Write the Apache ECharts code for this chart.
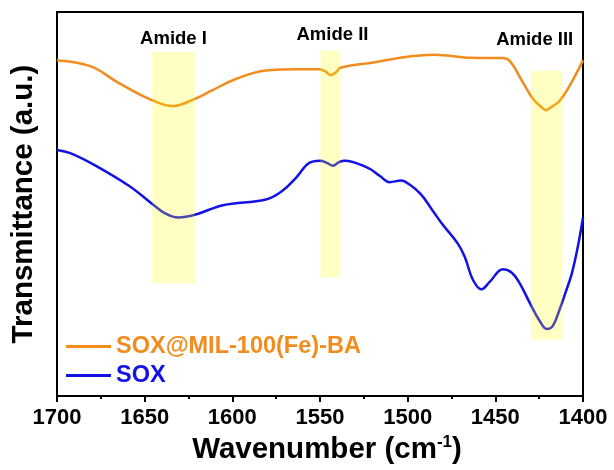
<!DOCTYPE html>
<html><head><meta charset="utf-8">
<script src="https://cdn.jsdelivr.net/npm/echarts@6/dist/echarts.min.js"></script>
<style>html,body{margin:0;padding:0;background:#fff}#c{width:614px;height:470px}</style>
</head><body><div id="c"></div><script>
// Wavenumber (cm^-1) and transmittance (a.u.)
const milWave = [1700,1681,1665.4,1647.5,1634.1,1621.4,1611.9,1598.4,1580.8,1562.8,1550.6,1547.2,1543.8,1540.9,1538.3,1520.4,1498.2,1484.7,1464.5,1445.7,1441.7,1434.3,1428.6,1424.1,1420.9,1419.5,1417.8,1413.3,1407.6,1400];
const milT    = [87.4,85.9,81.7,77.4,75.5,77.4,79.5,82.5,84.8,85.1,85.1,84.6,83.6,84.3,85.5,86.8,88.5,88.9,88.1,88.0,87.2,81.7,77.4,75.4,74.4,74.8,75.3,76.9,80.8,87.4];
const soxWave = [1700,1692.1,1678.8,1658.8,1645.3,1638.3,1630.9,1621.4,1605.3,1580.8,1571.6,1563.7,1556.3,1550,1546.1,1542.6,1539.2,1536.0,1522.7,1515.8,1510.3,1503.8,1498.7,1492.4,1486.2,1480.3,1471.4,1467.4,1462.8,1457.9,1453.1,1445.7,1440.6,1436.0,1430.3,1424.6,1420.6,1417.2,1413.3,1409.8,1406.4,1403.0,1400];
const soxT    = [64.1,63.2,60.2,54.7,49.9,47.6,46.5,47.2,49.7,51.2,53.4,56.8,60.7,61.3,60.7,60.0,60.9,61.3,59.4,57.3,55.7,56.1,55.0,52.5,48.6,44.8,39.7,36.2,30.3,27.8,29.8,33.0,32.1,29.3,24.2,19.5,17.5,18.3,22.6,27.2,31.9,38.8,46.5];
const seriesNames = ['SOX@MIL-100(Fe)-BA', 'SOX'];
const bandNames = ['Amide I', 'Amide II', 'Amide III'];
const bandFrom  = [1645.7, 1549.8, 1429.7];
const bandTo    = [1621.4, 1538.3, 1411.7];
const bandTop   = [89.6, 90.0, 84.7];
const bandBottom= [29.4, 30.9, 14.7];
const xTicks = [1700,1650,1600,1550,1500,1450,1400];

const ORANGE = '#F28C1E', BLUE = '#1212E4';
const FONT = 'Liberation Sans, Arial, sans-serif';
const zip = (a, b) => a.map((v, i) => [v, b[i]]);
const labelTweaks = [{distance: 4, offset: [0, 0]}, {distance: 6, offset: [2, 0]}, {distance: 21, offset: [-12, 0]}];

const chart = echarts.init(document.getElementById('c'));
chart.setOption({
  animation: false,
  backgroundColor: '#fff',
  grid: {left: 57, right: 31, top: 12, bottom: 69, show: true, borderColor: '#000', borderWidth: 2, backgroundColor: 'transparent'},
  legend: {
    orient: 'vertical', left: 61, top: 327, itemGap: 0, itemWidth: 45, itemHeight: 3, icon: 'rect',
    textStyle: {fontFamily: FONT, fontWeight: 'bold', fontSize: 23.5, lineHeight: 29},
    data: [
      {name: seriesNames[0], textStyle: {color: ORANGE}},
      {name: seriesNames[1], textStyle: {color: BLUE}}
    ]
  },
  xAxis: {
    type: 'value', min: 1400, max: 1700, interval: 50, inverse: true,
    name: '{a|Wavenumber (cm}{s|-1}{a|)}', nameLocation: 'middle', nameGap: 31,
    nameTextStyle: {padding: [0, 0, 0, 14], rich: {
      a: {fontFamily: FONT, fontWeight: 'bold', fontSize: 29.5, lineHeight: 32, color: '#000'},
      s: {fontFamily: FONT, fontWeight: 'bold', fontSize: 17, lineHeight: 30, verticalAlign: 'top', color: '#000'}
    }},
    axisLine: {show: true, lineStyle: {color: '#000', width: 2}},
    axisTick: {show: true, inside: false, length: 6, lineStyle: {color: '#000', width: 2}},
    minorTick: {show: true, splitNumber: 2, length: 3, lineStyle: {color: '#000', width: 2}},
    splitLine: {show: false},
    axisLabel: {fontFamily: FONT, fontWeight: 'bold', fontSize: 22, color: '#000', margin: 11,
      formatter: v => xTicks.includes(v) ? String(v) : ''}
  },
  yAxis: {
    type: 'value', min: 0, max: 100,
    name: 'Transmittance (a.u.)', nameLocation: 'middle', nameGap: 18, nameRotate: 90,
    nameTextStyle: {fontFamily: FONT, fontWeight: 'bold', fontSize: 29.5, color: '#000'},
    axisLine: {show: true, lineStyle: {color: '#000', width: 2}},
    axisTick: {show: false}, axisLabel: {show: false}, splitLine: {show: false}
  },
  series: [
    {name: seriesNames[0], type: 'line', data: zip(milWave, milT), smooth: 0.4, symbol: 'none',
      lineStyle: {color: ORANGE, width: 2.5}, itemStyle: {color: ORANGE}, z: 2},
    {name: seriesNames[1], type: 'line', data: zip(soxWave, soxT), smooth: 0.4, symbol: 'none',
      lineStyle: {color: BLUE, width: 2.5}, itemStyle: {color: BLUE}, z: 2},
    {name: 'bands', type: 'line', data: [], z: 10, silent: true,
      markArea: {
        silent: true, z: 10,
        itemStyle: {color: 'rgba(255,255,0,0.23)'},
        label: {show: true, position: 'top', fontFamily: FONT, fontWeight: 'bold', fontSize: 18.5, color: '#000'},
        data: bandNames.map((n, i) => [
          {name: n, xAxis: bandFrom[i], yAxis: bandTop[i], label: labelTweaks[i]},
          {xAxis: bandTo[i], yAxis: bandBottom[i]}
        ])
      }}
  ]
});
</script></body></html>
